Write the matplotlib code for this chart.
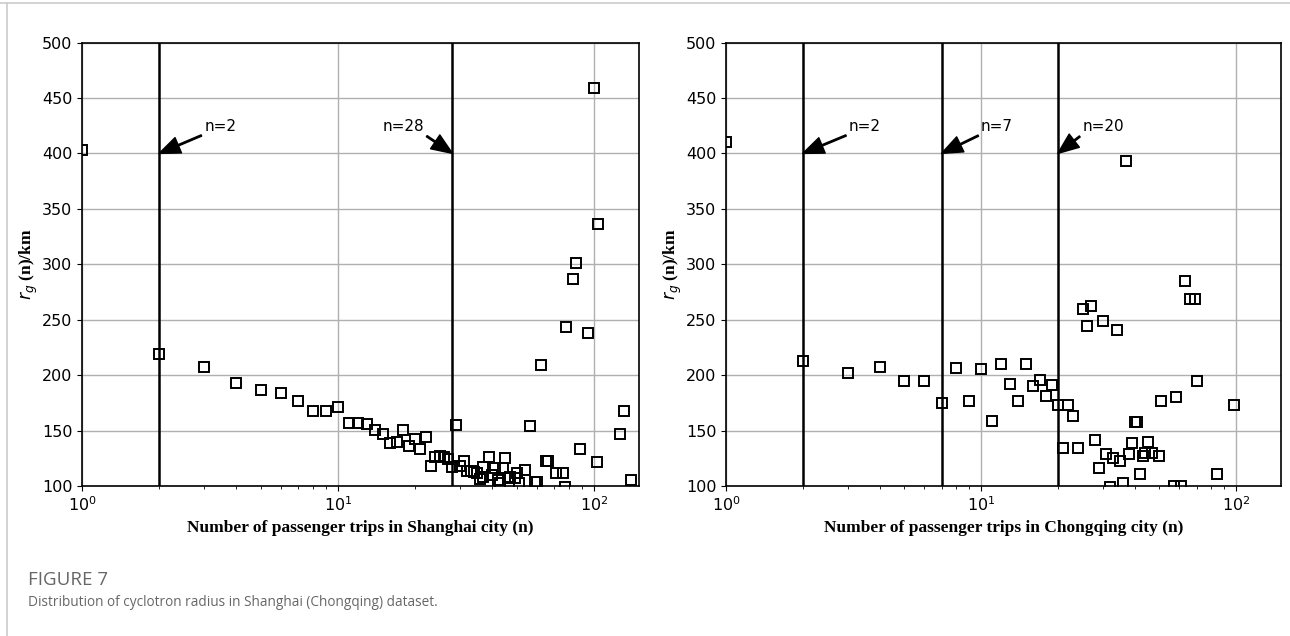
import matplotlib
matplotlib.use("Agg")
import matplotlib.pyplot as plt
from matplotlib.lines import Line2D

# Shanghai: number of trips n and radius of gyration r_g(n) in km
sh_n = [1, 2, 3, 4, 5, 6, 7, 8, 9, 10, 11, 12, 13, 14, 15, 16, 17, 18, 19, 20,
        21, 22, 23, 24, 25, 26, 27, 28, 29, 30, 31, 32, 33, 34, 35, 36, 37, 37,
        39, 40, 41, 42, 43, 44, 45, 46, 47, 49, 50, 51, 54, 56, 59, 60, 62, 65,
        66, 71, 76, 77, 78, 83, 85, 88, 95, 100, 103, 104, 126, 131, 139]
sh_r = [403, 219, 207.5, 193, 186.5, 183.5, 177, 168, 168, 171, 157, 156.5, 156,
        150.5, 147, 139, 140, 150.5, 136, 142, 133, 144.5, 118, 126.5, 127, 126.5,
        124.5, 117.5, 155, 118, 123, 114, 114, 113, 111.5, 106, 117.5, 108,
        126, 110, 116, 105.5, 102.5, 116, 125, 107, 108.5, 107, 111.5, 102.5,
        114.5, 154, 104, 104, 209.5, 123, 123, 112, 112, 99.5, 243.5, 286.5, 301,
        133, 238, 459, 122, 336.5, 147, 167.5, 105]

# Chongqing
cq_n = [1, 2, 3, 4, 5, 6, 7, 8, 9, 10, 11, 12, 13, 14, 15, 16, 17, 18, 19, 20,
        21, 22, 23, 24, 25, 26, 27, 28, 29, 30, 31, 32, 33, 34, 35, 36, 37, 38,
        39, 40, 41, 42, 43, 44, 45, 47, 50, 51, 57, 58, 61, 63, 66, 69, 70, 84, 98]
cq_r = [410, 212.5, 201.5, 207.5, 194.5, 194.5, 174.5, 206.5, 176.5, 206, 159,
        210.5, 192, 176.5, 210.5, 190, 196, 181, 191.5, 173.5, 134.5, 173.5, 163,
        134, 260, 244, 262, 141.5, 116, 249, 128.5, 99, 125.5, 240.5, 123, 103,
        393, 128.5, 139, 157.5, 157.5, 110.5, 127, 130, 139.5, 130, 127, 176.5,
        100, 180.5, 100, 285, 269, 269, 194.5, 110.5, 173]

sh_cuts = [2, 28]
cq_cuts = [2, 7, 20]
sh_label_x = [3.0, 14.9]
cq_label_x = [3.03, 10.0, 25.0]

fig = plt.figure(figsize=(12.9, 6.36), dpi=100)

# page frame lines of the screenshot
fig.add_artist(Line2D([0, 1], [0.996, 0.996], color="#cccccc", lw=1.2))
fig.add_artist(Line2D([0.0057, 0.0057], [0, 0.996], color="#cccccc", lw=1.2))

ax1 = fig.add_axes([0.0636, 0.2358, 0.4318, 0.6973])
ax2 = fig.add_axes([0.5628, 0.2358, 0.4302, 0.6973])

panels = [
    (ax1, sh_n, sh_r, sh_cuts, sh_label_x, "Number of passenger trips in Shanghai city (n)"),
    (ax2, cq_n, cq_r, cq_cuts, cq_label_x, "Number of passenger trips in Chongqing city (n)"),
]

for ax, n, r, cuts, lab_x, xlabel in panels:
    ax.set_xscale("log")
    ax.plot(n, r, "s", markersize=7, markerfacecolor="none",
            markeredgecolor="black", markeredgewidth=1.4)
    for c, lx in zip(cuts, lab_x):
        ax.axvline(c, color="black", lw=1.8)
        ax.annotate("n=%d" % c, xy=(c, 400), xytext=(lx, 424),
                    va="center", ha="left", fontsize=11,
                    arrowprops=dict(facecolor="black", edgecolor="black",
                                    width=1, headwidth=12, headlength=15, shrink=0))
    ax.set_xlim(1, 150)
    ax.set_ylim(100, 500)
    ax.set_yticks([100, 150, 200, 250, 300, 350, 400, 450, 500])
    ax.grid(True, which="major", color="#b0b0b0", lw=1)
    ax.set_axisbelow(True)
    ax.tick_params(labelsize=11.5)
    ax.set_xlabel(xlabel, fontsize=12.5, fontweight="bold", family="Liberation Serif")
    ax.set_ylabel(r"$r_g$ (n)/km", fontsize=12.5, fontweight="bold",
                  family="Liberation Serif", labelpad=1)
    for s in ax.spines.values():
        s.set_linewidth(1.2)

fig.text(0.0217, 0.088, "FIGURE 7", fontsize=13.5, color="#666666",
         family="Open Sans", va="center")
fig.text(0.0217, 0.052, "Distribution of cyclotron radius in Shanghai (Chongqing) dataset.",
         fontsize=9.8, color="#666666", family="Open Sans", va="center")

fig.savefig("out.png", dpi=100)
